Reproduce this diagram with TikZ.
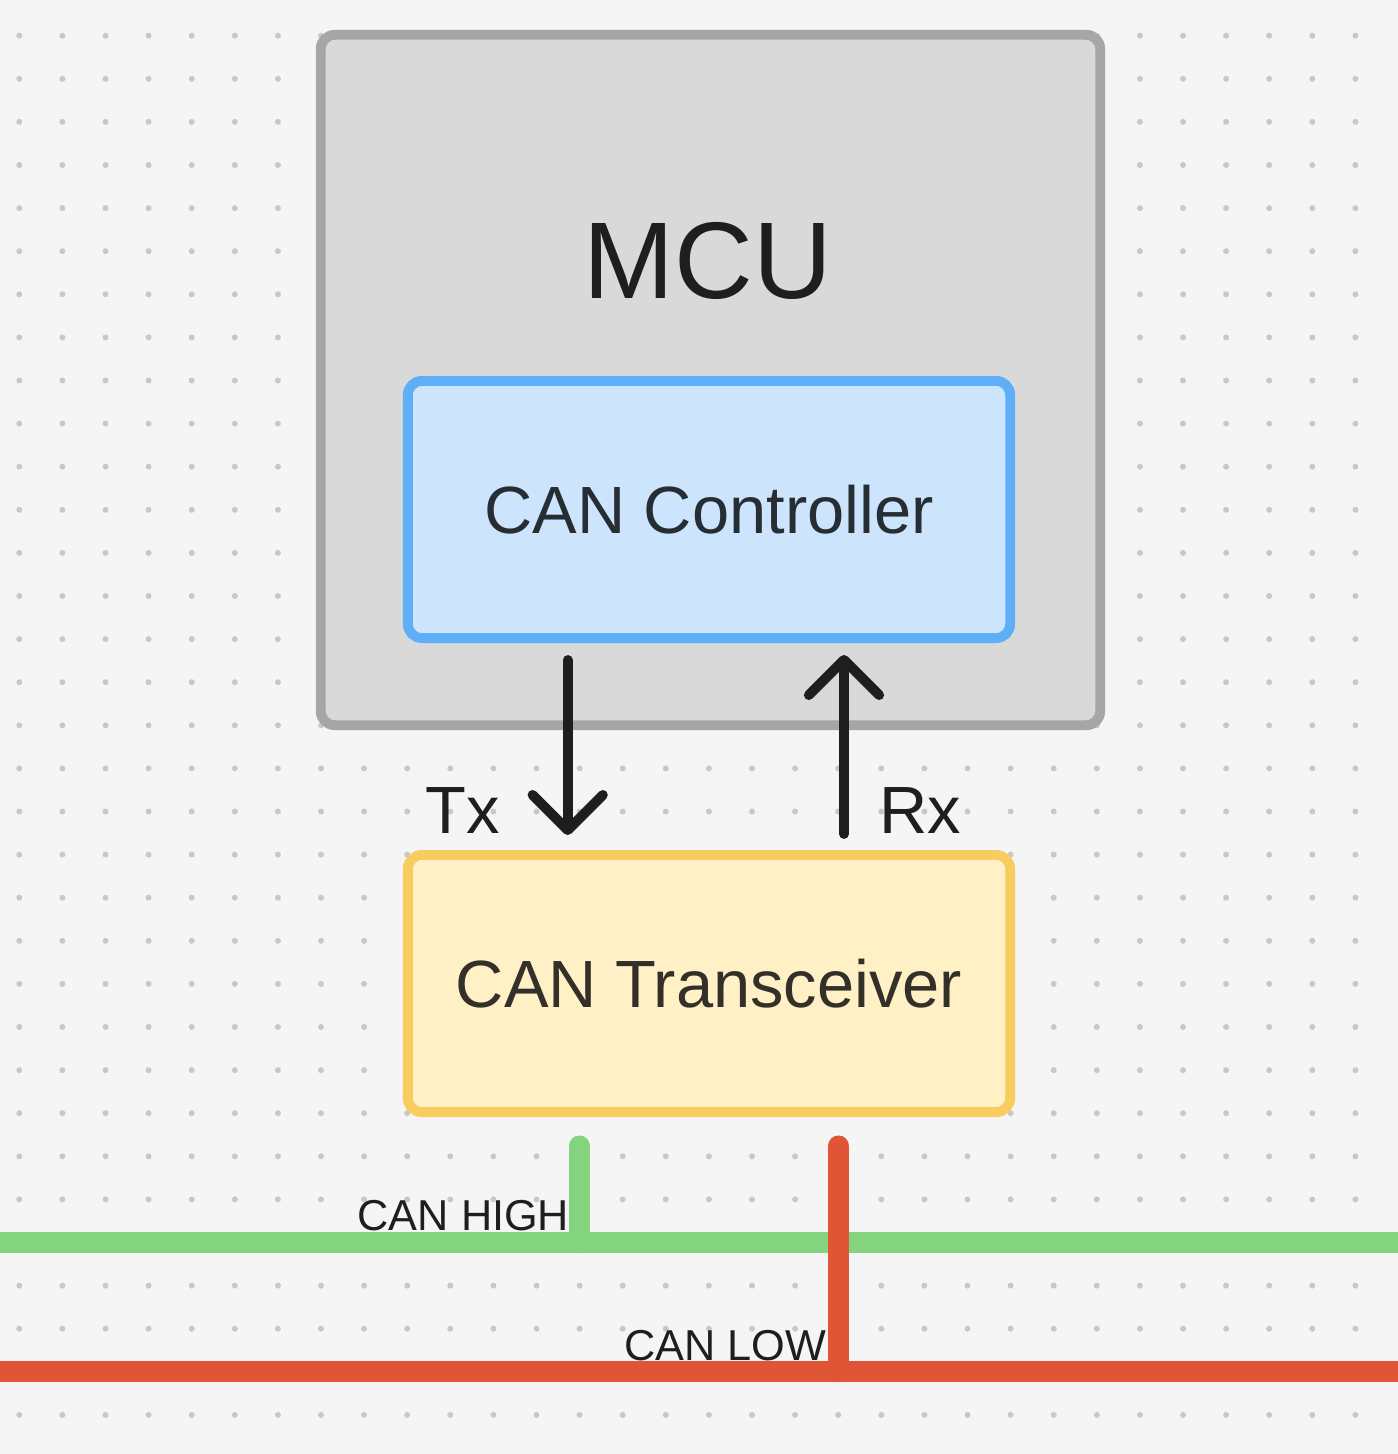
\documentclass[tikz,border=0pt]{standalone}
\usepackage{fontspec}
\setmainfont{Liberation Sans}
\usetikzlibrary{arrows.meta}
\definecolor{bgc}{HTML}{F5F5F5}
\definecolor{dotc}{HTML}{C8C8C8}
\definecolor{ink}{HTML}{1E1E1E}
\definecolor{mcufill}{HTML}{D9D9D9}
\definecolor{mculine}{HTML}{A6A6A6}
\definecolor{ctrlfill}{HTML}{CCE5FC}
\definecolor{ctrlline}{HTML}{5FAEF8}
\definecolor{ctrlink}{HTML}{262D33}
\definecolor{xcvrfill}{HTML}{FFF0C6}
\definecolor{xcvrline}{HTML}{F8CC5E}
\definecolor{xcvrink}{HTML}{33302A}
\definecolor{canhi}{HTML}{84D47F}
\definecolor{canlo}{HTML}{E05535}
\begin{document}
\begin{tikzpicture}[x=0.01cm,y=-0.01cm,>={Straight Barb[length=10pt,width=20pt,round]},
  box/.style={draw,line width=2.8pt,rounded corners=4pt,inner sep=0pt},
  blockbig/.style={box,minimum width=6.02cm,minimum height=2.57cm,font=\fontsize{19}{23}\selectfont},
  sig/.style={->,line width=2.8pt,draw=ink,line cap=round},
  lbl/.style={anchor=base,text=ink,font=\fontsize{19}{23}\selectfont},
  buslbl/.style={anchor=base,text=ink,font=\fontsize{12.3}{15}\selectfont},
  bus/.style={line width=6pt}]
\useasboundingbox (0,0) rectangle (1398,1454);
\fill[bgc] (0,0) rectangle (1398,1454);
\foreach \i in {0,...,31}
  \foreach \j in {0,...,32}
    \fill[dotc] (19.3+43.1*\i,35.7+43.1*\j) circle (0.85pt);
\node[box,draw=mculine,fill=mcufill,minimum width=7.79cm,minimum height=6.9cm] (mcu) at (710.5,380) {};
\node[anchor=base,text=ink,font=\fontsize{31}{36}\selectfont] (mculabel) at (708,298) {MCU};
\node[blockbig,draw=ctrlline,fill=ctrlfill,text=ctrlink] (ctrl) at (709,509.5) {CAN Controller};
\node[blockbig,draw=xcvrline,fill=xcvrfill,text=xcvrink] (xcvr) at (709,983.5) {CAN Transceiver};
\coordinate (txpin) at (567.7,0);
\coordinate (rxpin) at (844,0);
\draw[sig] ([yshift=-0.17cm]ctrl.south -| txpin) -- ([yshift=0.15cm]xcvr.north -| txpin);
\draw[sig] ([yshift=0.16cm]xcvr.north -| rxpin) -- ([yshift=-0.12cm]ctrl.south -| rxpin);
\node[lbl] (txlabel) at (463,833) {Tx};
\node[lbl] (rxlabel) at (920,833) {Rx};
\coordinate (hiL) at (0,1242.5);
\coordinate (hiR) at (1398,1242.5);
\coordinate (loL) at (0,1371.5);
\coordinate (loR) at (1398,1371.5);
\coordinate (hitop) at (579.5,1146);
\coordinate (lotop) at (838.5,1146);
\draw[bus,canhi] (hiL) -- (hiR);
\draw[bus,canhi,line cap=round] (hitop) -- (hitop |- hiL);
\draw[bus,canlo] (loL) -- (loR);
\draw[bus,canlo,line cap=round] (lotop) -- (lotop |- loL);
\node[buslbl] (hilabel) at (463.5,1230) {CAN HIGH};
\node[buslbl] (lolabel) at (725,1360) {CAN LOW};
\end{tikzpicture}
\end{document}
